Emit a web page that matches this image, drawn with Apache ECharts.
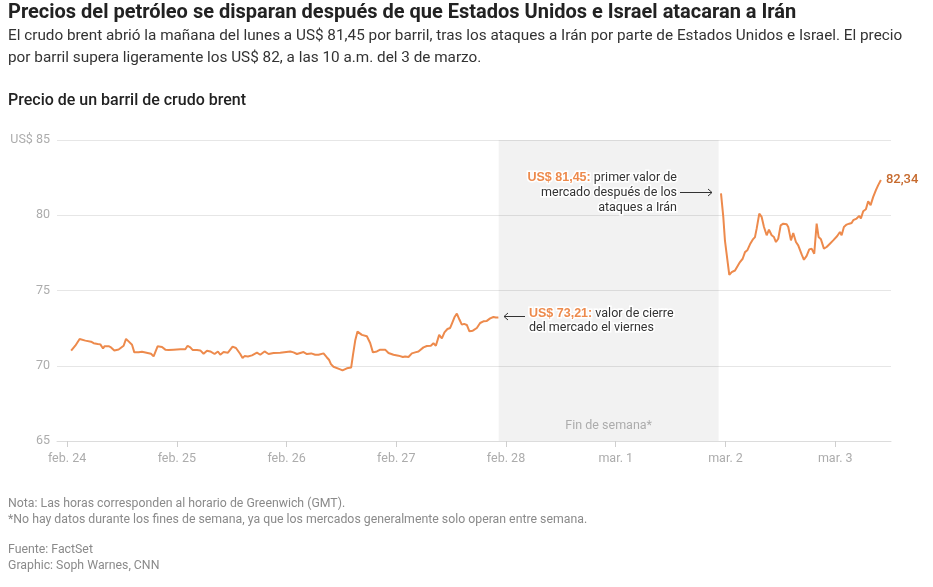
<!DOCTYPE html>
<html>
<head>
<meta charset="utf-8">
<style>
  html, body { margin: 0; padding: 0; background: #fff; }
  #main { width: 933px; height: 587px; }
</style>
<script src="https://cdn.jsdelivr.net/npm/echarts@6/dist/echarts.min.js"></script>
</head>
<body>
<div id="main"></div>
<script>
// horas desde el 24 feb 00:00 GMT
const hours = [
  0.9, 1.8, 2.75, 4.0, 5.25, 5.46, 5.81, 6.19, 6.69, 7.28, 7.87, 8.22, 8.59, 9.09, 9.62, 10.34,
  11.28, 12.37, 12.9, 13.46, 14.21, 14.71, 15.65, 16.39, 16.74, 17.62, 18.36, 18.93, 19.8, 20.77,
  21.49, 22.21, 23.3, 24.77, 25.86, 26.36, 26.95, 27.45, 28.42, 29.14, 29.86, 30.6, 31.32,
  32.26, 33.0, 33.51, 34.23, 35.19, 36.2, 36.94, 37.88, 38.38, 38.82, 39.56, 40.44, 41.53, 42.25,
  43.19, 44.07, 45.16, 46.62, 48.81, 49.53, 50.27, 51.0, 51.72, 52.46, 53.4, 54.27, 55.0, 56.09,
  56.83, 57.33, 57.71, 58.27, 58.65, 59.74, 60.24, 61.2, 61.55, 62.14, 62.51, 63.02, 63.52, 63.89,
  64.48, 65.57, 66.29, 66.89, 67.76, 68.48, 69.57, 70.3, 71.39, 72.48, 73.44, 73.95, 74.67, 75.41,
  76.13, 76.85, 77.95, 78.69, 79.56, 80.13, 80.66, 81.38, 81.97, 82.54, 83.19, 83.78, 84.22, 84.72,
  85.25, 85.81, 86.34, 86.84, 87.43, 88.0, 88.74, 89.62, 90.34, 91.06, 91.8, 92.53, 93.25, 93.77, 94.34,
  118,
  143.02, 143.52, 143.89, 144.26, 144.83, 145.36, 146.08, 146.45, 147.17, 147.76, 148.27, 148.77,
  149.36, 149.95, 150.45, 150.82, 151.39, 151.91, 152.42, 153.01, 153.51, 154.1, 154.6, 155.04,
  155.54, 156.07, 156.64, 157.38, 157.73, 158.32, 158.82, 159.41, 159.91, 160.66, 161.16, 161.75,
  162.32, 162.84, 163.41, 163.94, 164.37, 164.88, 165.53, 166.12, 166.84, 167.56, 168.44, 169.03,
  169.4, 169.9, 170.49, 171.06, 171.59, 171.94, 172.68, 173.25, 173.62, 174.12, 174.71, 175.21,
  175.74, 176.31, 176.9, 177.4, 177.99
];
const prices = [
  71.0, 71.33, 71.78, 71.67, 71.6, 71.67, 71.5, 71.6, 71.45, 71.42, 71.15, 71.3, 71.2, 71.3, 71.22, 71.02,
  71.08, 71.33, 71.78, 71.62, 71.4, 70.89, 70.89, 70.93, 71.05, 70.85, 70.8, 70.62, 71.29, 71.25,
  71.07, 71.05, 71.07, 71.09, 71.1, 71.33, 71.22, 71.05, 71.05, 71.02, 70.8, 71.0, 70.95,
  70.78, 70.95, 70.73, 70.91, 70.87, 71.27, 71.18, 70.78, 70.51, 70.64, 70.62, 70.69, 70.87, 70.73,
  70.95, 70.78, 70.85, 70.87, 70.95, 70.89, 70.78, 70.85, 70.91, 70.78, 70.82, 70.73, 70.73, 70.82,
  70.55, 70.38, 70.11, 69.93, 69.93, 69.76, 69.69, 69.83, 69.95, 69.89, 70.67, 71.67, 72.27, 72.29,
  72.05, 71.96, 71.51, 70.89, 70.95, 71.07, 71.07, 70.85, 70.73, 70.67, 70.58, 70.62, 70.58, 70.82,
  70.89, 70.95, 71.22, 71.31, 71.33, 71.49, 71.33, 72.05, 71.82, 72.22, 72.44, 72.51, 72.84, 73.22,
  73.47, 73.07, 72.73, 72.78, 72.71, 72.29, 72.33, 72.51, 72.84, 72.95, 72.98, 73.15, 73.24, 73.2, 73.21,
  null,
  81.45, 79.89, 78.29, 78.33, 76.04, 76.22, 76.33, 76.38, 76.89, 77.11, 77.55, 77.67,
  78.07, 78.38, 78.55, 79.11, 80.11, 79.89, 79.22, 78.67, 79.04, 78.67, 78.55, 78.22,
  78.44, 79.33, 79.44, 79.4, 79.22, 78.33, 78.82, 78.22, 78.0, 77.4, 77.04, 77.3,
  77.73, 77.78, 77.44, 79.44, 78.55, 78.4, 77.78, 77.89, 78.11, 78.33, 78.62, 78.89,
  78.67, 79.22, 79.38, 79.44, 79.49, 79.67, 79.78, 79.96, 79.78, 80.27, 80.4, 80.93,
  80.67, 81.22, 81.67, 82.0, 82.34
];
const dayTicks = [0, 24, 48, 72, 96, 120, 144, 168];
const dayLabels = ['feb. 24', 'feb. 25', 'feb. 26', 'feb. 27', 'feb. 28', 'mar. 1', 'mar. 2', 'mar. 3'];
const weekend = [94.4, 142.5];

const FONT = 'Roboto, "Liberation Sans", sans-serif';
const ORANGE = '#ed8a4c';

const chart = echarts.init(document.getElementById('main'));

const seriesData = hours.map((h, i) => [h, prices[i] === null ? '-' : prices[i]]);

function txt(x, y, text, size, color, weight) {
  return {
    type: 'text', left: x, top: y, silent: true,
    style: { text: text, font: (weight || 'normal') + ' ' + size + 'px ' + FONT, fill: color }
  };
}

chart.setOption({
  animation: false,
  textStyle: { fontFamily: FONT },
  grid: { left: 57, right: 42, top: 140, bottom: 146 },
  xAxis: {
    type: 'value',
    min: -2.2,
    max: 180.2,
    splitLine: { show: false },
    axisLine: { lineStyle: { color: '#dcdcdc' } },
    axisTick: { customValues: dayTicks, length: 6, lineStyle: { color: '#cfcfcf' } },
    axisLabel: {
      customValues: dayTicks,
      formatter: v => dayLabels[dayTicks.indexOf(v)],
      color: '#acacac', fontSize: 12.5, margin: 11
    }
  },
  yAxis: {
    type: 'value',
    min: 65, max: 85, interval: 5,
    axisLine: { show: false },
    axisTick: { show: false },
    axisLabel: {
      formatter: v => (v === 85 ? 'US$ 85' : v),
      color: '#acacac', fontSize: 12.5, margin: 7
    },
    splitLine: { lineStyle: { color: '#e6e6e6' } }
  },
  series: [{
    type: 'line',
    data: seriesData,
    showSymbol: false,
    connectNulls: false,
    lineStyle: { color: ORANGE, width: 2 },
    itemStyle: { color: ORANGE },
    endLabel: {
      show: true,
      formatter: '82,34',
      color: '#c66a2e',
      fontSize: 13,
      fontWeight: 500,
      distance: 5
    },
    markArea: {
      silent: true,
      itemStyle: { color: 'rgba(0,0,0,0.05)' },
      label: {
        show: true,
        position: 'insideBottom',
        distance: 9,
        color: '#acacac',
        fontSize: 12.5
      },
      data: [[{ xAxis: weekend[0], name: 'Fin de semana*' }, { xAxis: weekend[1] }]]
    }
  }],
  graphic: [
    txt(8, 3, 'Precios del petróleo se disparan después de que Estados Unidos e Israel atacaran a Irán', 20, '#222', 'bold'),
    txt(8, 29, 'El crudo brent abrió la mañana del lunes a US$ 81,45 por barril, tras los ataques a Irán por parte de Estados Unidos e Israel. El precio', 15.3, '#333'),
    txt(8, 51, 'por barril supera ligeramente los US$ 82, a las 10 a.m. del 3 de marzo.', 15.3, '#333'),
    txt(8, 93, 'Precio de un barril de crudo brent', 16, '#222', '500'),
    txt(8, 498, 'Nota: Las horas corresponden al horario de Greenwich (GMT).', 12.3, '#8a8a8a'),
    txt(8, 514, '*No hay datos durante los fines de semana, ya que los mercados generalmente solo operan entre semana.', 12.3, '#8a8a8a'),
    txt(8, 544, 'Fuente: FactSet', 12.3, '#8a8a8a'),
    txt(8, 560, 'Graphic: Soph Warnes, CNN', 12.3, '#8a8a8a'),
    {
      type: 'text', silent: true, z: 10,
      style: {
        x: 677, y: 170, align: 'right',
        text: '{o|US$ 81,45:} primer valor de\nmercado después de los\nataques a Irán',
        font: '12.5px ' + FONT, fill: '#333', lineHeight: 15,
        stroke: '#fff', lineWidth: 3,
        rich: { o: { fill: ORANGE, fontWeight: 'bold', fontSize: 12.5, stroke: '#fff', lineWidth: 3 } }
      }
    },
    {
      type: 'text', silent: true, z: 10,
      style: {
        x: 529, y: 307, align: 'left',
        text: '{o|US$ 73,21:} valor de cierre\ndel mercado el viernes',
        font: '12.5px ' + FONT, fill: '#333', lineHeight: 14,
        stroke: '#fff', lineWidth: 3,
        rich: { o: { fill: ORANGE, fontWeight: 'bold', fontSize: 12.5, stroke: '#fff', lineWidth: 3 } }
      }
    },
    { type: 'line', silent: true, z: 10, shape: { x1: 680, y1: 192.5, x2: 712, y2: 192.5 }, style: { stroke: '#333', lineWidth: 1 } },
    { type: 'polyline', silent: true, z: 10, shape: { points: [[708, 189], [712, 192.5], [708, 196]] }, style: { stroke: '#333', lineWidth: 1, fill: null } },
    { type: 'line', silent: true, z: 10, shape: { x1: 504, y1: 316.5, x2: 525, y2: 316.5 }, style: { stroke: '#333', lineWidth: 1 } },
    { type: 'polyline', silent: true, z: 10, shape: { points: [[508, 313], [504, 316.5], [508, 320]] }, style: { stroke: '#333', lineWidth: 1, fill: null } }
  ]
});
</script>
</body>
</html>
